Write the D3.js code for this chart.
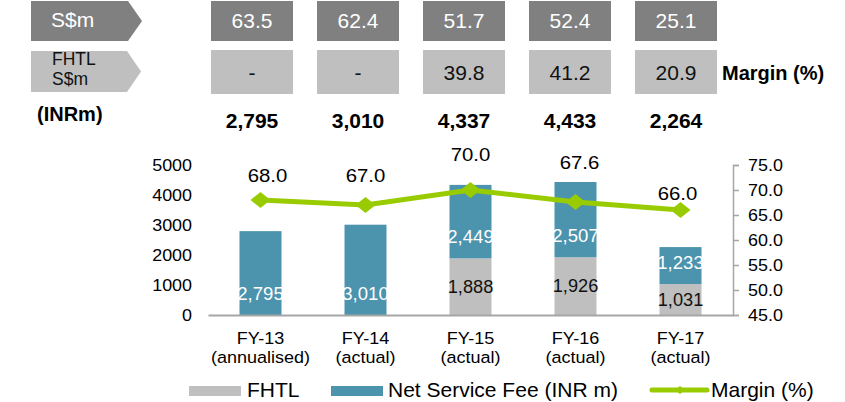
<!DOCTYPE html>
<html>
<head>
<meta charset="utf-8">
<script src="https://cdn.jsdelivr.net/npm/d3@7"></script>
<style>
body { margin: 0; background: #fff; }
text { font-family: Arial, "Liberation Sans", sans-serif; }
</style>
</head>
<body>
<div id="chart"></div>
<script>
// values
let years = ['FY-13', 'FY-14', 'FY-15', 'FY-16', 'FY-17']
let yearNotes = ['(annualised)', '(actual)', '(actual)', '(actual)', '(actual)']
let fhtl = [0, 0, 1888, 1926, 1031]
let netFee = [2795, 3010, 2449, 2507, 1233]
let marginPct = [68.0, 67.0, 70.0, 67.6, 66.0]
let totalINR = [2795, 3010, 4337, 4433, 2264]
let sgdTotal = ['63.5', '62.4', '51.7', '52.4', '25.1']
let sgdFHTL = ['-', '-', '39.8', '41.2', '20.9']
let leftTicks = [0, 1000, 2000, 3000, 4000, 5000]
let rightTicks = [45, 50, 55, 60, 65, 70, 75]

// label nudges for the margin values (dx, dy from the point)
let marginLabelShift = [[7, -18], [0, -23], [0, -29], [4, -33], [-3, -10]]

let width = 845, height = 402
let blue = '#4c93ad', grey = '#bfbfbf', green = '#99cc00', axisGrey = '#a6a6a6'

let svg = d3.select('#chart')
.append('svg')
.attr('width', width)
.attr('height', height)

// ---- header table ----
let colX = d3.scalePoint().domain(years).range([252, 676])

svg.append('path')
.attr('d', 'M31,1H128L142,21L128,41H31Z')
.style('fill', '#808080')
svg.append('text').text('S$m')
.attr('x', 51).attr('y', 27)
.style('fill', '#fff').style('font-size', '21px')

svg.append('path')
.attr('d', 'M31,51H127L141,71.5L127,92H31Z')
.style('fill', grey)
svg.append('text').text('FHTL')
.attr('x', 52).attr('y', 65)
.style('font-size', '17.5px').style('fill', '#111')
svg.append('text').text('S$m')
.attr('x', 52).attr('y', 85)
.style('font-size', '17.5px').style('fill', '#111')

svg.append('text').text('(INRm)')
.attr('x', 37).attr('y', 121)
.style('font-size', '20px').style('font-weight', 'bold')

svg.selectAll('.box1')
.data(years)
.join('rect')
.attr('class', 'box1')
.attr('x', d => colX(d) - 41)
.attr('y', 1)
.attr('width', 82)
.attr('height', 40)
.style('fill', '#808080')

svg.selectAll('.val1')
.data(sgdTotal)
.join('text')
.attr('class', 'val1')
.text(d => d)
.attr('x', (d, i) => colX(years[i]))
.attr('y', 28)
.style('text-anchor', 'middle')
.style('fill', '#fff')
.style('font-size', '21px')

svg.selectAll('.box2')
.data(years)
.join('rect')
.attr('class', 'box2')
.attr('x', d => colX(d) - 41)
.attr('y', 50)
.attr('width', 82)
.attr('height', 44)
.style('fill', grey)

svg.selectAll('.val2')
.data(sgdFHTL)
.join('text')
.attr('class', 'val2')
.text(d => d)
.attr('x', (d, i) => colX(years[i]))
.attr('y', 80)
.style('text-anchor', 'middle')
.style('fill', '#111')
.style('font-size', '21px')

svg.append('text').text('Margin (%)')
.attr('x', 722).attr('y', 80)
.style('font-size', '20px').style('font-weight', 'bold')

svg.selectAll('.total')
.data(totalINR)
.join('text')
.attr('class', 'total')
.text(d => d3.format(',')(d))
.attr('x', (d, i) => colX(years[i]))
.attr('y', 128)
.style('text-anchor', 'middle')
.style('font-size', '21px')
.style('font-weight', 'bold')

// ---- chart ----
let xScale = d3.scaleBand()
.domain(years)
.range([208, 733])
.paddingInner(0.6)
.paddingOuter(0.3)

let yScale = d3.scaleLinear()
.domain([0, 5000])
.range([315, 165])

let y2Scale = d3.scaleLinear()
.domain([45, 75])
.range([315, 165])

let rows = years.map((y, i) => ({year: y, fhtl: fhtl[i], fee: netFee[i]}))
let stacked = d3.stack().keys(['fhtl', 'fee'])(rows)
let colors = {fhtl: grey, fee: blue}

let layers = svg.selectAll('.layer')
.data(stacked)
.join('g')
.attr('class', 'layer')
.style('fill', d => colors[d.key])

layers.selectAll('rect')
.data(d => d)
.join('rect')
.attr('x', d => xScale(d.data.year))
.attr('y', d => yScale(d[1]))
.attr('width', xScale.bandwidth())
.attr('height', d => yScale(d[0]) - yScale(d[1]))

let cx = d => xScale(d.data.year) + xScale.bandwidth() / 2

// grey segment labels, centred
svg.selectAll('.fhtl-label')
.data(stacked[0].filter(d => d[1] - d[0] > 0))
.join('text')
.attr('class', 'fhtl-label')
.text(d => d3.format(',')(d[1] - d[0]))
.attr('transform', d => `translate(${cx(d)}, ${(yScale(d[0]) + yScale(d[1])) / 2 + 6})scale(1.04,1)`)
.style('text-anchor', 'middle')
.style('font-size', '17.5px')
.style('fill', '#111')

// blue segment labels, inside base
svg.selectAll('.fee-label')
.data(stacked[1])
.join('text')
.attr('class', 'fee-label')
.text(d => d3.format(',')(d[1] - d[0]))
.attr('transform', d => `translate(${cx(d)}, ${yScale(d[0]) - 15})scale(1.06,1)`)
.style('text-anchor', 'middle')
.style('font-size', '17.5px')
.style('fill', '#fff')

// axes
let sx = 1.12

let xAxis = svg.append('g')
.attr('transform', `translate(0, ${yScale(0)})`)
.call(d3.axisBottom(xScale).tickSize(0).tickFormat(''))
xAxis.select('.domain').attr('stroke', axisGrey).attr('stroke-width', 2)

let yAxis = svg.append('g')
.attr('transform', 'translate(192, 0)')
.call(d3.axisLeft(yScale).tickValues(leftTicks).tickSize(0).tickPadding(0).tickFormat(d3.format('d')))
yAxis.select('.domain').remove()
yAxis.selectAll('text')
.attr('transform', `scale(${sx},1)`)
.style('font-size', '16px')
.style('font-family', 'Arial, "Liberation Sans", sans-serif')
.style('fill', '#000')

let y2Axis = svg.append('g')
.attr('transform', 'translate(733, 0)')
.call(d3.axisRight(y2Scale).tickValues(rightTicks).tickSize(6).tickPadding(9).tickFormat(d3.format('.1f')))
y2Axis.select('.domain').attr('stroke', axisGrey).attr('stroke-width', 1.5)
y2Axis.selectAll('line').attr('stroke', axisGrey).attr('stroke-width', 1.5)
y2Axis.selectAll('text')
.attr('x', 15 / sx)
.attr('transform', `scale(${sx},1)`)
.style('font-size', '16px')
.style('font-family', 'Arial, "Liberation Sans", sans-serif')
.style('fill', '#000')

// category labels
let cats = svg.selectAll('.cat')
.data(years)
.join('text')
.attr('class', 'cat')
.attr('transform', d => `translate(${xScale(d) + xScale.bandwidth() / 2}, 0)scale(1.06,1)`)
.style('text-anchor', 'middle')
.style('font-size', '17px')
cats.append('tspan').attr('x', 0).attr('y', 344).text(d => d)
cats.append('tspan').attr('x', 0).attr('y', 363).text((d, i) => yearNotes[i])

// margin line
let pts = years.map((y, i) => ({year: y, v: marginPct[i]}))
let lineFunc = d3.line()
.x(d => xScale(d.year) + xScale.bandwidth() / 2)
.y(d => y2Scale(d.v))

svg.append('path')
.datum(pts)
.attr('d', lineFunc)
.style('fill', 'none')
.style('stroke', green)
.style('stroke-width', 5)

svg.selectAll('.marker')
.data(pts)
.join('path')
.attr('class', 'marker')
.attr('d', 'M-10,0L0,-8L10,0L0,8Z')
.attr('transform', d => `translate(${xScale(d.year) + xScale.bandwidth() / 2}, ${y2Scale(d.v)})`)
.style('fill', green)

svg.selectAll('.m-label')
.data(pts)
.join('text')
.attr('class', 'm-label')
.text(d => d3.format('.1f')(d.v))
.attr('transform', (d, i) => `translate(${xScale(d.year) + xScale.bandwidth() / 2 + marginLabelShift[i][0]}, ${y2Scale(d.v) + marginLabelShift[i][1]})scale(1.1,1)`)
.style('text-anchor', 'middle')
.style('font-size', '18.5px')

// legend
let legend = svg.append('g')
legend.append('rect').attr('x', 189).attr('y', 386).attr('width', 52).attr('height', 10).style('fill', grey)
legend.append('text').text('FHTL').attr('x', 247).attr('y', 397).style('font-size', '21px')
legend.append('rect').attr('x', 331).attr('y', 386).attr('width', 52).attr('height', 10).style('fill', blue)
legend.append('text').text('Net Service Fee (INR m)').attr('x', 388).attr('y', 397).style('font-size', '21px')
legend.append('line').attr('x1', 652).attr('x2', 707).attr('y1', 390).attr('y2', 390)
.style('stroke', green).style('stroke-width', 5).style('stroke-linecap', 'round')
legend.append('path').attr('d', 'M-5,0L0,-4L5,0L0,4Z').attr('transform', 'translate(680, 390)').style('fill', green)
legend.append('text').text('Margin (%)').attr('x', 711).attr('y', 397).style('font-size', '21px')
</script>
</body>
</html>
